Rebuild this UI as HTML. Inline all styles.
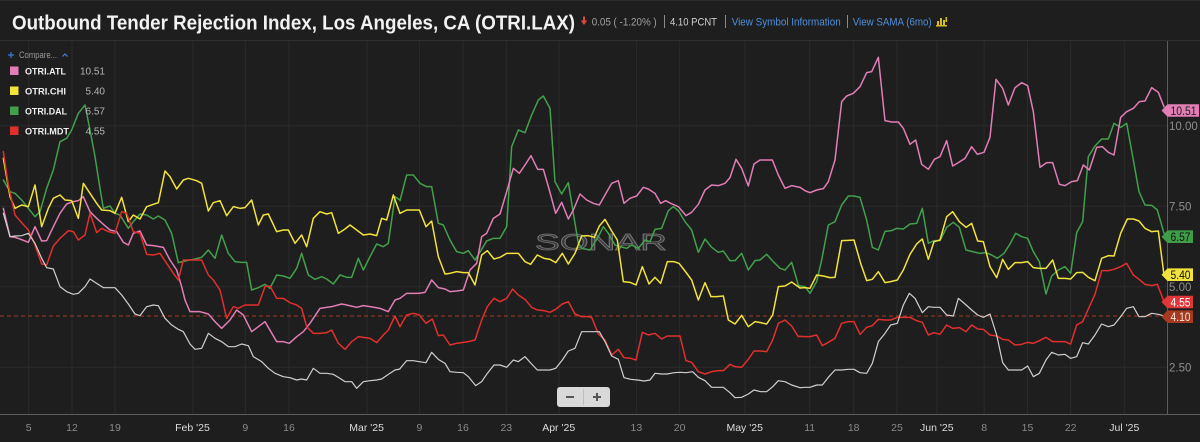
<!DOCTYPE html>
<html><head><meta charset="utf-8"><style>
html,body{margin:0;padding:0;background:#1e1e1e;}
body{width:1200px;height:442px;overflow:hidden;}
svg{display:block;}
text{font-family:"Liberation Sans",sans-serif;}
</style></head><body>
<svg width="1200" height="442" viewBox="0 0 1200 442" xmlns="http://www.w3.org/2000/svg">
<rect x="0" y="0" width="1200" height="442" fill="#1e1e1e"/>
<line x1="0" y1="0.5" x2="1200" y2="0.5" stroke="#2e2e2e"/>
<line x1="0" y1="40.5" x2="1200" y2="40.5" stroke="#303030"/>
<!-- header -->
<text x="12" y="29.5" font-size="20.5" font-weight="bold" fill="#f2f2f2" textLength="563" lengthAdjust="spacingAndGlyphs">Outbound Tender Rejection Index, Los Angeles, CA (OTRI.LAX)</text>
<rect x="583" y="16.5" width="2" height="5" fill="#e0463a"/>
<polygon points="580.8,20.5 587.2,20.5 584,25" fill="#e0463a"/>
<text x="591.7" y="25.5" font-size="11" fill="#a0a0a0" textLength="65" lengthAdjust="spacingAndGlyphs">0.05 ( -1.20% )</text>
<line x1="664.5" y1="15" x2="664.5" y2="28" stroke="#8a8a8a"/>
<text x="670" y="25.5" font-size="11" fill="#cfcfcf" textLength="47" lengthAdjust="spacingAndGlyphs">4.10 PCNT</text>
<line x1="725.5" y1="15" x2="725.5" y2="28" stroke="#8a8a8a"/>
<text x="731.7" y="25.5" font-size="11" fill="#4f8fdc" textLength="109" lengthAdjust="spacingAndGlyphs">View Symbol Information</text>
<line x1="847.5" y1="15" x2="847.5" y2="28" stroke="#8a8a8a"/>
<text x="852.7" y="25.5" font-size="11" fill="#4f8fdc" textLength="79" lengthAdjust="spacingAndGlyphs">View SAMA (6mo)</text>
<g fill="#d6bf1e">
<rect x="937" y="21" width="2" height="5"/><rect x="940" y="18" width="2" height="8"/><rect x="943" y="20" width="2" height="6"/><rect x="945.5" y="17" width="1.6" height="5"/>
<rect x="936" y="25" width="11" height="1.5"/>
</g>
<!-- grid -->
<g stroke="#2a2a2a" stroke-width="1">
<line x1="0" y1="125.7" x2="1167" y2="125.7"/>
<line x1="0" y1="206.2" x2="1167" y2="206.2"/>
<line x1="0" y1="286.7" x2="1167" y2="286.7"/>
<line x1="0" y1="367.2" x2="1167" y2="367.2"/>
<line x1="28.7" y1="41" x2="28.7" y2="414"/>
<line x1="72" y1="41" x2="72" y2="414"/>
<line x1="115" y1="41" x2="115" y2="414"/>
<line x1="193" y1="41" x2="193" y2="414"/>
<line x1="245.3" y1="41" x2="245.3" y2="414"/>
<line x1="289" y1="41" x2="289" y2="414"/>
<line x1="367" y1="41" x2="367" y2="414"/>
<line x1="419.4" y1="41" x2="419.4" y2="414"/>
<line x1="463" y1="41" x2="463" y2="414"/>
<line x1="506.3" y1="41" x2="506.3" y2="414"/>
<line x1="559" y1="41" x2="559" y2="414"/>
<line x1="636.4" y1="41" x2="636.4" y2="414"/>
<line x1="679.6" y1="41" x2="679.6" y2="414"/>
<line x1="745" y1="41" x2="745" y2="414"/>
<line x1="809.7" y1="41" x2="809.7" y2="414"/>
<line x1="853.7" y1="41" x2="853.7" y2="414"/>
<line x1="897" y1="41" x2="897" y2="414"/>
<line x1="937" y1="41" x2="937" y2="414"/>
<line x1="984.2" y1="41" x2="984.2" y2="414"/>
<line x1="1027.5" y1="41" x2="1027.5" y2="414"/>
<line x1="1070.7" y1="41" x2="1070.7" y2="414"/>
<line x1="1124.3" y1="41" x2="1124.3" y2="414"/>
</g>
<!-- watermark -->
<text x="535" y="250" font-size="23.5" fill="#3a3a3a" stroke="#777" stroke-width="0.7" textLength="132" lengthAdjust="spacingAndGlyphs">SONAR</text>
<!-- dashed current -->
<line x1="0" y1="316" x2="1162" y2="316" stroke="#a63a1e" stroke-width="1" stroke-dasharray="4,3"/>
<!-- series -->
<g fill="none" stroke-linejoin="round" stroke-linecap="round">
<g transform="translate(0,40) scale(0.33333)">
<polyline vector-effect="non-scaling-stroke" stroke="#42a04c" stroke-width="1.5" points="10,420 30,455 45,460 65,480 85,505 105,530 120,515 140,445 160,390 180,305 200,295 215,270 235,220 255,195 270,270 285,350 300,445 310,505 330,498 345,520 360,525 385,565 400,545 420,522 440,525 460,537 475,528 495,540 515,580 535,668 560,662 585,657 605,652 625,630 645,655 665,585 685,640 705,665 725,667 740,667 755,750 775,743 795,733 810,745 830,705 850,708 870,715 890,685 905,640 925,705 945,718 965,710 980,717 1000,732 1020,705 1040,712 1055,712 1075,655 1090,690 1110,650 1130,612 1150,620 1165,610 1185,470 1200,480"/>
<polyline vector-effect="non-scaling-stroke" stroke="#e27db6" stroke-width="1.5" points="10,505 30,590 45,592 60,597 85,607 105,560 125,603 140,602 160,560 180,520 200,492 220,485 235,482 250,470 270,515 290,535 310,553 330,570 350,575 370,607 385,615 400,580 420,573 440,615 460,617 490,622 510,660 530,690 545,740 555,780 570,815 600,815 625,822 645,845 665,865 690,840 710,810 730,825 755,875 775,860 795,845 830,905 850,905 868,910 890,890 910,875 930,850 960,805 995,800 1025,792 1040,795 1070,802 1090,797 1110,800 1140,805 1165,815 1185,780 1200,775"/>
<polyline vector-effect="non-scaling-stroke" stroke="#f2e33c" stroke-width="1.5" points="10,355 30,470 45,505 65,495 85,500 105,435 125,560 145,505 160,475 180,465 195,480 215,482 235,535 250,430 270,460 290,490 305,510 330,512 345,520 365,472 385,545 400,525 420,537 440,500 460,493 475,488 495,393 510,410 530,447 550,420 565,415 590,422 605,430 625,513 640,488 660,482 680,527 700,500 720,505 735,503 755,480 775,555 790,525 805,522 830,575 850,570 865,570 885,610 905,585 920,620 940,535 960,515 980,522 995,518 1015,580 1035,567 1050,555 1070,570 1090,585 1110,582 1130,587 1145,535 1160,540 1180,465 1200,520"/>
<polyline vector-effect="non-scaling-stroke" stroke="#e0302e" stroke-width="1.5" points="10,335 25,435 45,525 65,548 85,570 105,615 125,672 140,675 160,618 180,595 205,572 220,575 235,600 255,585 270,520 290,578 305,565 325,575 345,580 365,515 380,520 400,575 420,580 440,643 460,645 480,640 500,670 520,700 535,720 550,660 575,660 605,660 625,705 640,720 660,750 680,835 700,800 715,805 735,795 755,795 775,795 795,740 810,738 830,775 850,775 870,788 890,795 905,805 920,860 940,880 960,880 980,878 995,870 1015,910 1035,928 1055,905 1075,890 1095,893 1110,895 1130,908 1150,885 1165,870 1185,828 1200,860"/>
<polyline vector-effect="non-scaling-stroke" stroke="#cfcfcf" stroke-width="1.2" points="10,520 30,590 45,588 65,587 85,580 105,610 125,655 140,683 160,687 180,740 200,755 220,763 235,760 255,740 270,717 290,730 310,743 330,743 345,743 365,765 385,792 405,822 420,827 440,800 460,795 475,797 495,835 515,855 535,868 550,875 570,912 585,928 605,925 625,880 645,895 665,905 685,920 705,920 725,912 745,917 760,950 785,965 805,985 825,1000 850,1010 870,1013 890,1020 905,1017 920,1020 940,985 960,1000 980,1000 1000,1003 1020,1015 1035,1025 1055,1025 1070,1045 1090,1025 1110,1022 1130,1020 1145,1017 1165,1003 1185,990 1200,987"/>
</g>
<g transform="translate(400,40) scale(0.33333)">
<polyline vector-effect="non-scaling-stroke" stroke="#42a04c" stroke-width="1.5" points="0,482 20,405 40,405 60,430 80,440 95,440 115,550 130,555 150,600 170,635 190,640 205,632 225,660 245,628 260,603 280,595 300,595 320,560 335,320 355,270 375,278 395,225 415,180 430,168 450,205 465,425 485,462 505,428 520,520 535,610 545,625 570,630 595,590 610,560 625,580 645,615 660,620 680,625 695,615 715,625 735,600 750,605 765,568 785,565 805,512 820,500 835,512 855,545 875,570 895,637 915,597 935,622 955,637 970,633 990,662 1005,662 1025,640 1045,690 1065,662 1080,660 1100,643 1120,665 1140,685 1155,690 1175,667 1195,735 1200,738"/>
<polyline vector-effect="non-scaling-stroke" stroke="#e27db6" stroke-width="1.5" points="0,775 20,760 40,760 55,760 75,757 95,720 115,743 135,747 150,755 170,753 190,750 210,690 230,670 245,590 260,580 280,535 300,522 320,455 340,385 358,400 375,375 393,347 413,388 430,388 448,450 467,520 485,487 505,537 520,510 540,462 560,480 580,490 598,495 615,465 635,430 655,422 672,490 690,475 710,468 730,442 745,447 765,460 782,490 797,482 812,490 835,500 858,527 875,517 895,493 915,450 935,435 955,437 975,430 990,413 1008,358 1025,385 1045,438 1062,372 1080,360 1100,360 1117,360 1135,405 1155,445 1175,437 1200,442"/>
<polyline vector-effect="non-scaling-stroke" stroke="#f2e33c" stroke-width="1.5" points="0,520 20,510 40,510 58,510 78,560 95,543 115,650 135,702 150,700 170,695 190,698 205,698 225,735 245,645 262,632 282,657 300,652 320,640 340,640 355,640 375,665 392,673 412,645 432,655 450,658 467,668 487,640 505,672 525,640 545,588 565,587 583,592 598,558 615,538 635,573 652,600 670,725 690,727 708,735 727,680 747,732 765,712 782,730 802,665 822,665 837,670 855,693 875,720 895,780 915,728 933,770 950,770 970,768 985,840 1005,852 1025,826 1045,860 1065,845 1082,848 1100,852 1118,825 1135,740 1155,738 1175,726 1200,744"/>
<polyline vector-effect="non-scaling-stroke" stroke="#e0302e" stroke-width="1.5" points="0,860 20,825 40,820 58,825 78,850 97,837 115,887 130,885 150,915 170,910 190,907 205,905 225,900 245,840 262,800 282,775 300,785 320,775 338,747 355,765 375,778 395,802 412,810 432,812 450,817 467,808 487,792 505,785 525,822 545,830 565,830 575,832 595,882 615,900 635,945 655,928 672,953 692,955 708,960 727,877 745,885 765,880 785,897 802,888 822,888 840,888 858,962 875,967 895,995 915,1002 935,995 955,992 970,992 990,973 1005,980 1025,982 1045,958 1062,933 1082,933 1100,935 1118,900 1135,850 1155,840 1175,858 1195,890 1200,889"/>
<polyline vector-effect="non-scaling-stroke" stroke="#cfcfcf" stroke-width="1.2" points="0,986 20,962 40,962 58,965 78,968 95,937 115,958 135,970 150,995 170,997 190,998 205,1010 227,1037 245,1025 262,1000 282,975 300,975 320,982 340,960 355,965 375,950 395,972 412,990 432,990 450,990 467,985 487,960 505,933 525,925 545,875 565,875 583,875 598,875 615,905 635,948 655,958 672,1013 692,1018 712,1020 733,1023 750,1020 765,1000 785,1002 802,1002 822,998 840,997 858,998 878,995 895,1012 915,1022 935,1042 955,1042 970,1042 990,1058 1005,1073 1025,1072 1045,1062 1062,1050 1082,1055 1100,1055 1118,1040 1135,1022 1155,1025 1175,1035 1200,1043"/>
</g>
<g transform="translate(800,40) scale(0.33333)">
<polyline vector-effect="non-scaling-stroke" stroke="#42a04c" stroke-width="1.5" points="0,738 15,740 30,760 50,725 65,660 85,555 105,545 125,495 145,468 162,468 180,472 200,540 217,622 235,630 255,574 275,572 290,565 310,567 330,552 350,550 367,505 385,610 402,602 420,602 440,562 460,547 478,562 498,630 518,635 538,640 558,638 575,645 592,655 612,640 630,612 647,580 665,590 683,595 700,635 718,665 738,762 755,708 775,690 795,680 812,700 830,578 848,545 865,350 885,318 905,297 925,297 942,250 962,262 980,250 1000,360 1017,455 1035,495 1055,496 1072,510 1092,580"/>
<polyline vector-effect="non-scaling-stroke" stroke="#e27db6" stroke-width="1.5" points="0,442 15,452 30,458 50,450 70,446 85,425 105,360 125,185 140,168 160,160 180,140 200,98 215,95 235,52 255,242 275,246 295,246 310,265 330,313 347,300 365,373 385,388 403,358 420,350 440,302 458,378 475,368 495,355 515,320 532,343 552,337 570,292 588,118 608,145 625,195 645,143 665,128 683,137 700,215 720,382 740,368 758,368 778,433 795,437 815,425 832,422 850,375 868,390 890,322 907,320 925,337 942,345 962,232 980,215 1000,205 1018,185 1035,183 1055,143 1075,157 1092,200"/>
<polyline vector-effect="non-scaling-stroke" stroke="#f2e33c" stroke-width="1.5" points="0,744 15,743 30,745 50,705 70,708 90,713 105,712 125,602 145,601 162,600 182,670 200,722 217,718 235,695 255,728 272,725 292,720 310,690 330,643 350,612 367,597 385,658 402,605 420,600 440,530 458,515 478,545 498,562 515,550 533,603 550,605 570,680 590,713 608,658 625,688 645,668 665,668 683,665 700,683 718,685 738,685 758,660 775,715 795,715 812,717 830,698 848,697 865,712 885,722 905,655 925,647 942,648 962,580 982,537 1000,537 1017,543 1035,565 1055,575 1075,573 1092,705"/>
<polyline vector-effect="non-scaling-stroke" stroke="#e0302e" stroke-width="1.5" points="0,889 15,890 30,890 50,885 67,917 85,907 105,895 125,850 145,845 162,845 180,883 200,862 217,857 235,838 255,840 272,840 292,832 310,832 330,832 350,842 367,847 385,885 402,878 420,883 440,855 458,865 478,863 498,875 515,855 533,867 550,868 570,885 590,888 608,898 625,900 645,915 665,913 683,907 700,910 718,902 738,892 758,905 775,905 795,905 812,912 830,855 848,845 865,807 885,763 905,692 925,692 942,688 962,680 980,670 1000,705 1017,718 1035,733 1055,737 1072,733 1092,785"/>
<polyline vector-effect="non-scaling-stroke" stroke="#cfcfcf" stroke-width="1.2" points="0,1043 15,1042 30,1042 50,1035 67,1035 85,1012 105,990 125,990 145,988 162,988 180,998 200,1000 217,970 235,905 255,880 272,855 292,850 310,795 328,760 345,775 367,818 385,800 402,802 420,802 440,825 460,828 475,775 495,792 515,810 533,825 550,832 570,822 590,885 608,968 625,990 645,990 665,990 683,978 700,1010 718,1000 738,960 755,937 775,945 795,943 812,955 830,950 848,908 865,912 885,885 905,852 925,860 942,855 962,830 980,805 1000,800 1017,830 1035,830 1055,820 1075,823 1092,828"/>
</g>
</g>
<!-- legend -->
<g>
<line x1="8" y1="55" x2="14" y2="55" stroke="#3b7fe0" stroke-width="1.2"/>
<line x1="11" y1="52" x2="11" y2="58" stroke="#3b7fe0" stroke-width="1.2"/>
<text x="19" y="58" font-size="9" fill="#9a9a9a" textLength="38" lengthAdjust="spacingAndGlyphs">Compare...</text>
<polyline points="62.5,56.5 65,54 67.5,56.5" fill="none" stroke="#3b7fe0" stroke-width="1.2"/>
<rect x="10" y="66.5" width="8.5" height="8.5" fill="#e27db6"/>
<rect x="10" y="86.5" width="8.5" height="8.5" fill="#f2e33c"/>
<rect x="10" y="106.5" width="8.5" height="8.5" fill="#42a04c"/>
<rect x="10" y="126.5" width="8.5" height="8.5" fill="#e0302e"/>
<g font-size="9.5" font-weight="bold" fill="#f0f0f0">
<text x="25" y="74.3" textLength="41" lengthAdjust="spacingAndGlyphs">OTRI.ATL</text>
<text x="25" y="94.3" textLength="41" lengthAdjust="spacingAndGlyphs">OTRI.CHI</text>
<text x="25" y="114.3" textLength="42" lengthAdjust="spacingAndGlyphs">OTRI.DAL</text>
<text x="25" y="134.3" textLength="44" lengthAdjust="spacingAndGlyphs">OTRI.MDT</text>
</g>
<g font-size="10" fill="#b4b4b4" text-anchor="end">
<text x="105" y="74.5">10.51</text>
<text x="105" y="94.5">5.40</text>
<text x="105" y="114.5">6.57</text>
<text x="105" y="134.5">4.55</text>
</g>
</g>
<!-- axes -->
<line x1="0" y1="414.5" x2="1200" y2="414.5" stroke="#5c5c5c"/>
<line x1="1167.5" y1="41" x2="1167.5" y2="414" stroke="#5c5c5c"/>
<g font-size="11.5" fill="#8e8e8e">
<text x="1169" y="130">10.00</text>
<text x="1169" y="210.5">7.50</text>
<text x="1169" y="291">5.00</text>
<text x="1169" y="371.5">2.50</text>
</g>
<g font-size="10.5" fill="#8a8a8a" text-anchor="middle">
<text x="28.7" y="431">5</text>
<text x="72" y="431">12</text>
<text x="115" y="431">19</text>
<text x="245.3" y="431">9</text>
<text x="289" y="431">16</text>
<text x="419.4" y="431">9</text>
<text x="463" y="431">16</text>
<text x="506.3" y="431">23</text>
<text x="636.4" y="431">13</text>
<text x="679.6" y="431">20</text>
<text x="809.7" y="431">11</text>
<text x="853.7" y="431">18</text>
<text x="897" y="431">25</text>
<text x="984.2" y="431">8</text>
<text x="1027.5" y="431">15</text>
<text x="1070.7" y="431">22</text>
</g>
<g font-size="10.5" fill="#dcdcdc" text-anchor="middle">
<text x="192.5" y="431">Feb '25</text>
<text x="366.6" y="431">Mar '25</text>
<text x="558.7" y="431">Apr '25</text>
<text x="744.7" y="431">May '25</text>
<text x="936.8" y="431">Jun '25</text>
<text x="1124.3" y="431">Jul '25</text>
</g>
<!-- zoom control -->
<rect x="557" y="387" width="53" height="20" rx="3" fill="#d9d9d9"/>
<line x1="583.5" y1="389" x2="583.5" y2="405" stroke="#bdbdbd"/>
<line x1="566" y1="397" x2="574" y2="397" stroke="#555" stroke-width="2"/>
<line x1="593" y1="397" x2="601" y2="397" stroke="#555" stroke-width="2"/>
<line x1="597" y1="393" x2="597" y2="401" stroke="#555" stroke-width="2"/>
<!-- price tags -->
<g font-size="12">
<polygon points="1161.5,110.5 1167.5,104.2 1199,104.2 1199,116.8 1167.5,116.8" fill="#e27db6"/>
<text x="1170.5" y="115" fill="#1e1e1e" textLength="26" lengthAdjust="spacingAndGlyphs">10.51</text>
<polygon points="1161.5,236.7 1167.5,230.4 1193,230.4 1193,243 1167.5,243" fill="#3f9c49"/>
<text x="1170.5" y="241.2" fill="#111" textLength="20" lengthAdjust="spacingAndGlyphs">6.57</text>
<polygon points="1161.5,274.7 1167.5,268.4 1193,268.4 1193,281 1167.5,281" fill="#f2e33c"/>
<text x="1170.5" y="279.2" fill="#111" textLength="20" lengthAdjust="spacingAndGlyphs">5.40</text>
<polygon points="1161.5,302 1167.5,295.7 1193,295.7 1193,308.3 1167.5,308.3" fill="#e0363a"/>
<text x="1170.5" y="306.5" fill="#ffffff" textLength="20" lengthAdjust="spacingAndGlyphs">4.55</text>
<polygon points="1161.5,316.7 1167.5,310.4 1193,310.4 1193,323 1167.5,323" fill="#a63a1e"/>
<text x="1170.5" y="321.2" fill="#f3e6e0" textLength="20" lengthAdjust="spacingAndGlyphs">4.10</text>
</g>
</svg>
</body></html>
